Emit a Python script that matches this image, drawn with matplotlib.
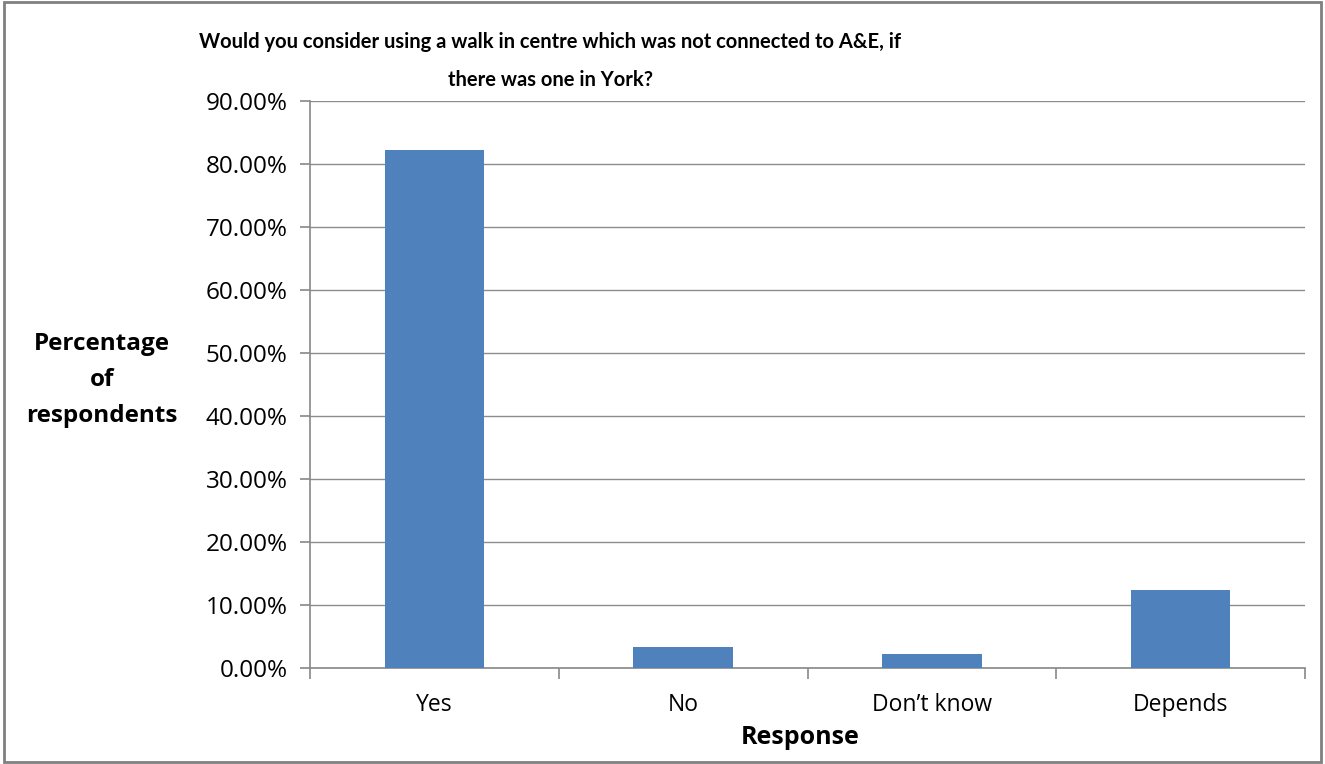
import matplotlib
matplotlib.use('Agg')
import matplotlib.pyplot as plt
from matplotlib.ticker import PercentFormatter, FixedLocator
import numpy as np

categories = ['Yes', 'No', 'Don\u2019t know', 'Depends']
percentages = [82.2, 3.35, 2.2, 12.4]
yticks = [0, 10, 20, 30, 40, 50, 60, 70, 80, 90]

plt.rcParams['font.family'] = ['Open Sans', 'DejaVu Sans']

fig = plt.figure(figsize=(13.25, 7.64), dpi=100)
ax = fig.add_axes([310 / 1325, 1 - 668 / 764, 995 / 1325, 567 / 764])

x = np.arange(len(categories))
ax.bar(x, percentages, width=0.4, color='#4F81BD', zorder=3)

ax.set_xlim(-0.5, len(categories) - 0.5)
ax.set_ylim(0, 90)
ax.set_yticks(yticks)
ax.yaxis.set_major_formatter(PercentFormatter(decimals=2))
ax.set_xticks(x)
ax.set_xticklabels(categories)
ax.xaxis.set_minor_locator(FixedLocator(np.arange(-0.5, len(categories), 1)))
ax.tick_params(axis='x', which='major', length=0, pad=18, labelsize=16.5)
ax.tick_params(axis='x', which='minor', length=8, color='#888888', width=1.2)
ax.tick_params(axis='y', length=7, color='#888888', width=1.2, labelsize=17.5, pad=9)

ax.grid(axis='y', color='#8c8c8c', linewidth=1, zorder=0)
for s in ['top', 'right']:
    ax.spines[s].set_visible(False)
ax.spines['left'].set_color('#888888')
ax.spines['bottom'].set_color('#888888')
ax.spines['left'].set_linewidth(1.2)
ax.spines['bottom'].set_linewidth(1.2)

fig.text(550 / 1325, 1 - 61 / 764,
         'Would you consider using a walk in centre which was not connected to A&E, if\nthere was one in York?',
         ha='center', va='center', fontsize=14.5, fontweight='bold', linespacing=2.1,
         family=['Lato', 'DejaVu Sans'])
fig.text(102 / 1325, 1 - 380 / 764, 'Percentage\nof\nrespondents',
         ha='center', va='center', fontsize=17.5, fontweight='bold', linespacing=1.65)
fig.text(800 / 1325, 1 - 737 / 764, 'Response',
         ha='center', va='center', fontsize=18, fontweight='bold')

fig.patches.append(plt.Rectangle((0.003, 0.003), 0.994, 0.994, transform=fig.transFigure,
                                 fill=False, edgecolor='#808080', linewidth=2))

fig.savefig('out.png', dpi=100)
